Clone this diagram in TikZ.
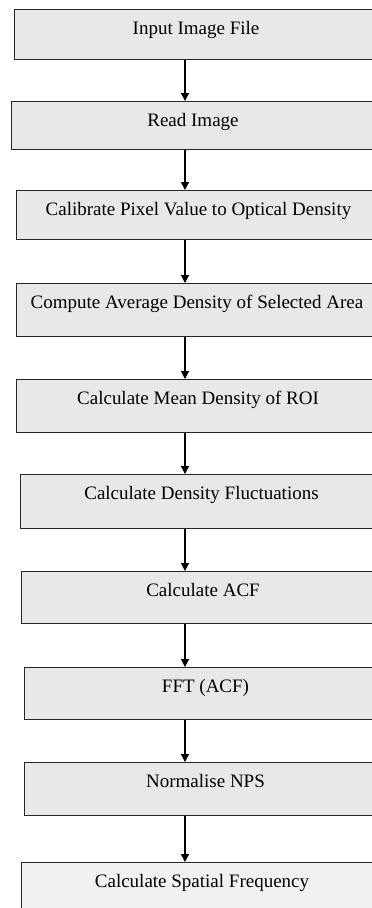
\documentclass[tikz,border=0pt]{standalone}
\usepackage{fontspec}
\setmainfont{Liberation Serif}
\usetikzlibrary{arrows.meta}
\definecolor{boxfill}{RGB}{232,232,232}
\definecolor{lastfill}{RGB}{241,241,241}
\tikzset{
  stepbox/.style={draw=black!85, line width=1pt, fill=boxfill, anchor=north west,
    inner xsep=0pt, inner ysep=0pt, text height=24.5pt, font=\fontsize{19pt}{22pt}\selectfont},
  arr/.style={line width=1.2pt, -{Triangle[length=8pt,width=8pt]}}
}
\begin{document}
\begin{tikzpicture}[x=1pt,y=1pt]
\useasboundingbox (0,0) rectangle (372,-908);
\clip (0,0) rectangle (372,-908);
\fill[white] (0,0) rectangle (372,-908);
\coordinate (ax) at (185,0);
\node[stepbox, minimum width=363pt, text depth=25.5pt] (b1) at (14,-9) {Input Image File};
\node[stepbox, minimum width=363pt, text depth=23.5pt] (b2) at (11,-101) {Read Image};
\node[stepbox, minimum width=364pt, text depth=24.5pt] (b3) at (16,-190) {Calibrate Pixel Value to Optical Density};
\node[stepbox, minimum width=361pt, text depth=28.5pt] (b4) at (16,-283) {Compute Average Density of Selected Area};
\node[stepbox, minimum width=363pt, text depth=28.5pt] (b5) at (16,-379) {Calculate Mean Density of ROI};
\node[stepbox, minimum width=362pt, text depth=29.5pt] (b6) at (20,-474) {Calculate Density Fluctuations};
\node[stepbox, minimum width=363pt, text depth=27.5pt] (b7) at (21,-571) {Calculate ACF};
\node[stepbox, minimum width=362pt, text depth=27.5pt] (b8) at (24,-667) {FFT (ACF)};
\node[stepbox, minimum width=362pt, text depth=28.5pt] (b9) at (24,-762) {Normalise NPS};
\node[stepbox, fill=lastfill, minimum width=361pt, text depth=60pt] (b10) at (21,-862) {Calculate Spatial Frequency};
\foreach \a/\b in {b1/b2,b2/b3,b3/b4,b4/b5,b5/b6,b6/b7,b7/b8,b8/b9,b9/b10}
  \draw[arr] (\a.south -| ax) -- (\b.north -| ax);
\end{tikzpicture}
\end{document}
